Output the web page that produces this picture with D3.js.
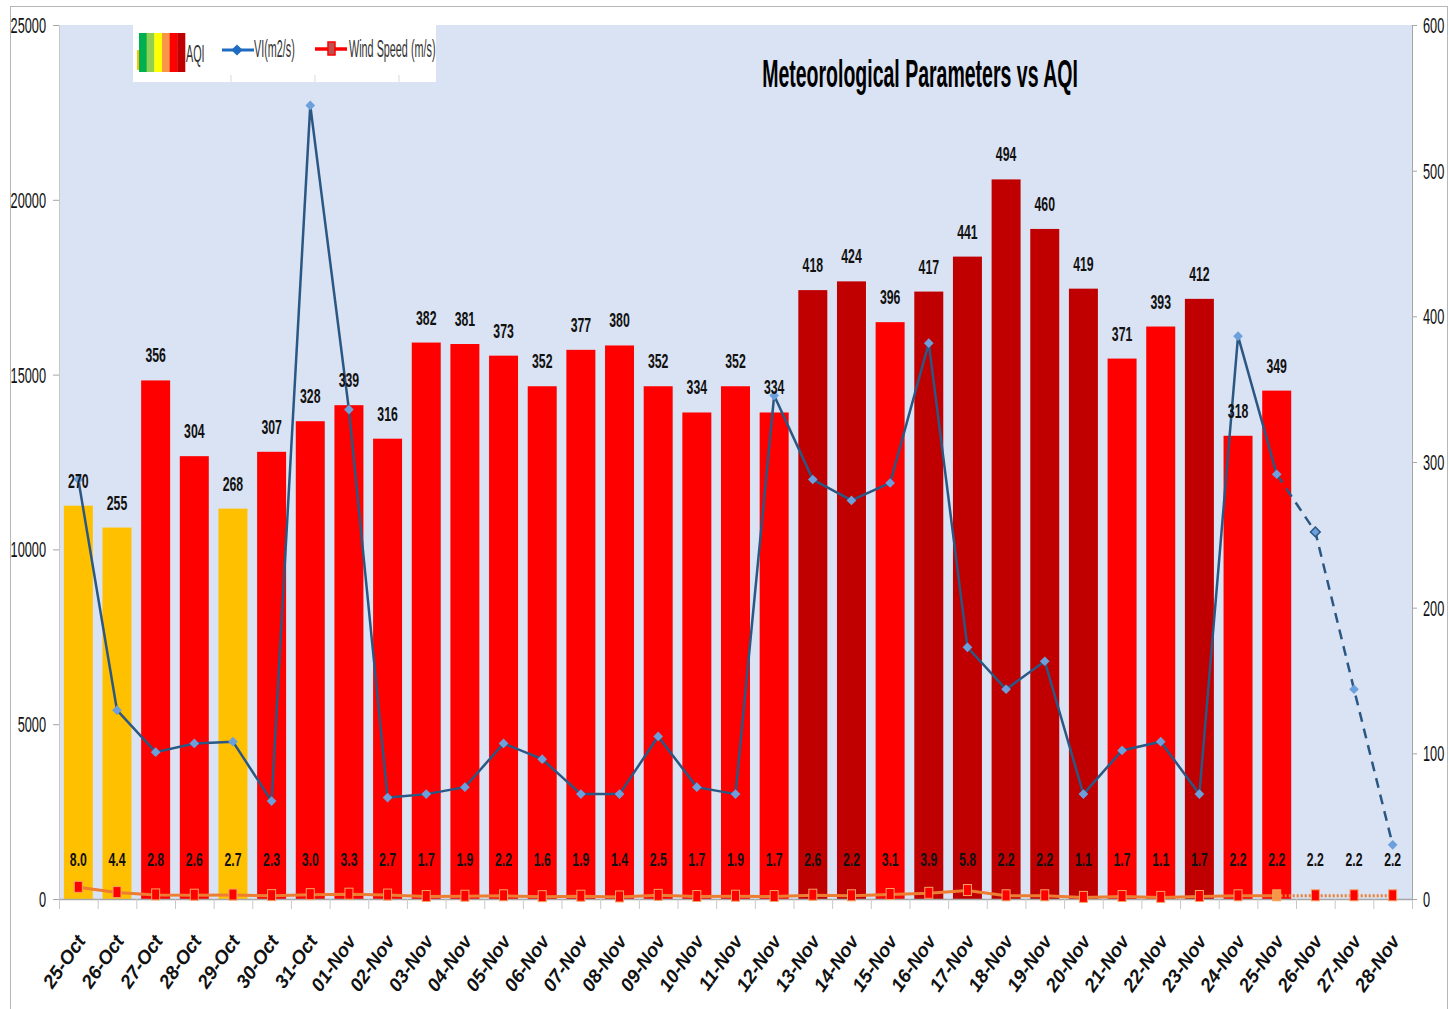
<!DOCTYPE html>
<html>
<head>
<meta charset="utf-8">
<script src="https://cdn.jsdelivr.net/npm/d3@7"></script>
<style>
  html, body { margin: 0; padding: 0; background: #fff; }
  svg text { font-family: "Liberation Sans", Arial, sans-serif; }
</style>
</head>
<body>
<div id="chart"></div>
<script>
// ---- Data -------------------------------------------------------------------
const dates = [
  "25-Oct", "26-Oct", "27-Oct", "28-Oct", "29-Oct", "30-Oct", "31-Oct",
  "01-Nov", "02-Nov", "03-Nov", "04-Nov", "05-Nov", "06-Nov", "07-Nov",
  "08-Nov", "09-Nov", "10-Nov", "11-Nov", "12-Nov", "13-Nov", "14-Nov",
  "15-Nov", "16-Nov", "17-Nov", "18-Nov", "19-Nov", "20-Nov", "21-Nov",
  "22-Nov", "23-Nov", "24-Nov", "25-Nov", "26-Nov", "27-Nov", "28-Nov"
];
// AQI (right axis), no value for the last three days
const aqi = [
  270, 255, 356, 304, 268, 307, 328, 339, 316, 382, 381, 373, 352, 377,
  380, 352, 334, 352, 334, 418, 424, 396, 417, 441, 494, 460, 419, 371,
  393, 412, 318, 349, null, null, null
];
// Ventilation index (left axis)
const vi = [
  12000, 5400, 4200, 4450, 4500, 2800, 22700, 14000, 2900, 3000, 3200, 4450,
  4000, 3000, 3000, 4650, 3200, 3000, 14400, 12000, 11400, 11900, 15900, 7200,
  6000, 6800, 3000, 4250, 4500, 3000, 16100, 12150, 10500, 6000, 1550
];
// Wind speed (m/s), right axis
const wind = [
  8.0, 4.4, 2.8, 2.6, 2.7, 2.3, 3.0, 3.3, 2.7, 1.7, 1.9, 2.2, 1.6, 1.9,
  1.4, 2.5, 1.7, 1.9, 1.7, 2.6, 2.2, 3.1, 3.9, 5.8, 2.2, 2.2, 1.1, 1.7,
  1.1, 1.7, 2.2, 2.2, 2.2, 2.2, 2.2
];
const forecastFrom = "25-Nov"; // lines turn dashed/dotted after this date
const leftTicks = [0, 5000, 10000, 15000, 20000, 25000];
const rightTicks = [0, 100, 200, 300, 400, 500, 600];
const legendSwatch = ["#00B050", "#92D050", "#FFFF00", "#F79646", "#FF0000", "#C00000"];

// ---- Helpers ----------------------------------------------------------------
const aqiColor = (v) => v <= 300 ? "#FFC000" : v <= 400 ? "#FF0000" : "#C00000";

// narrow text, like the squeezed Calibri of the original
function narrowText(sel, sx) {
  return sel.attr("transform", function () {
    const t = d3.select(this);
    return `translate(${t.attr("data-x")},${t.attr("data-y")}) scale(${sx},1)`;
  });
}

// ---- Layout -----------------------------------------------------------------
const width = 1449, height = 1009;
const plot = { left: 59, right: 1412, top: 25, bottom: 899 };

const svg = d3.select("#chart").append("svg")
  .attr("width", width).attr("height", height);

// chart border
svg.append("rect")
  .attr("x", 10.5).attr("y", 6.5)
  .attr("width", 1437).attr("height", height)
  .attr("fill", "#fff").attr("stroke", "#b7b7b7");

// plot area
svg.append("rect")
  .attr("x", plot.left).attr("y", plot.top)
  .attr("width", plot.right - plot.left).attr("height", plot.bottom - plot.top)
  .attr("fill", "#DAE3F3");

const x = d3.scaleBand()
  .domain(dates)
  .range([plot.left, plot.right])
  .paddingInner(0.25)
  .paddingOuter(0.125);
const cx = (d) => x(d) + x.bandwidth() / 2;

const yL = d3.scaleLinear().domain([0, 25000]).range([plot.bottom, plot.top]);
const yR = d3.scaleLinear().domain([0, 600]).range([plot.bottom, plot.top]);

// ---- Bars -------------------------------------------------------------------
const barData = dates.map((d, i) => ({ d, v: aqi[i] })).filter((e) => e.v != null);

svg.append("g").selectAll("rect")
  .data(barData)
  .join("rect")
  .attr("x", (e) => x(e.d))
  .attr("y", (e) => yR(e.v))
  .attr("width", x.bandwidth())
  .attr("height", (e) => yR(0) - yR(e.v))
  .attr("fill", (e) => aqiColor(e.v));

// ---- Axes -------------------------------------------------------------------
const axisColor = "#a6a6a6";

// x axis line + boundary ticks
svg.append("line")
  .attr("x1", plot.left).attr("x2", plot.right)
  .attr("y1", yR(0) + 0.5).attr("y2", yR(0) + 0.5)
  .attr("stroke", axisColor).attr("stroke-width", 1.5);
svg.append("g").selectAll("line")
  .data(d3.range(dates.length + 1))
  .join("line")
  .attr("x1", (i) => plot.left + i * x.step() + 0.5)
  .attr("x2", (i) => plot.left + i * x.step() + 0.5)
  .attr("y1", yR(0)).attr("y2", yR(0) + 10)
  .attr("stroke", "#c8c8c8");

// x labels
svg.append("g").selectAll("text")
  .data(dates)
  .join("text")
  .attr("transform", (d) => `translate(${cx(d) + 8},${plot.bottom + 42}) rotate(-55)`)
  .attr("text-anchor", "end")
  .attr("font-size", 19)
  .attr("font-weight", "bold")
  .attr("font-style", "italic")
  .attr("fill", "#111")
  .text((d) => d);

// left axis
const gL = svg.append("g")
  .attr("transform", `translate(${plot.left},0)`)
  .call(d3.axisLeft(yL).tickValues(leftTicks).tickSize(6).tickFormat(""));
gL.select(".domain").attr("stroke", "#c8c8c8");
gL.selectAll(".tick line").attr("stroke", axisColor);

narrowText(svg.append("g").selectAll("text")
  .data(leftTicks)
  .join("text")
  .attr("data-x", 46)
  .attr("data-y", (v) => yL(v))
  .attr("dy", "0.36em")
  .attr("text-anchor", "end")
  .attr("font-size", 22)
  .attr("fill", "#111")
  .text((v) => v), 0.58);

// right axis
const gR = svg.append("g")
  .attr("transform", `translate(${plot.right},0)`)
  .call(d3.axisRight(yR).tickValues(rightTicks).tickSize(5).tickFormat(""));
gR.select(".domain").attr("stroke", axisColor);
gR.selectAll(".tick line").attr("stroke", axisColor);

narrowText(svg.append("g").selectAll("text")
  .data(rightTicks)
  .join("text")
  .attr("data-x", 1423)
  .attr("data-y", (v) => yR(v))
  .attr("dy", "0.36em")
  .attr("text-anchor", "start")
  .attr("font-size", 22)
  .attr("fill", "#111")
  .text((v) => v), 0.58);

// ---- Wind speed line --------------------------------------------------------
const cut = dates.indexOf(forecastFrom);
const windPts = dates.map((d, i) => ({ d, v: wind[i], i }));
const windLine = d3.line().x((p) => cx(p.d)).y((p) => yR(p.v));

svg.append("path")
  .attr("d", windLine(windPts.slice(0, cut + 1)))
  .attr("fill", "none").attr("stroke", "#ED7D31").attr("stroke-width", 3);
svg.append("path")
  .attr("d", windLine(windPts.slice(cut)))
  .attr("fill", "none").attr("stroke", "#ED7D31").attr("stroke-width", 3)
  .attr("stroke-dasharray", "2,2");

svg.append("g").selectAll("rect")
  .data(windPts)
  .join("rect")
  .attr("x", (p) => cx(p.d) - 4)
  .attr("y", (p) => yR(p.v) - 6)
  .attr("width", 8).attr("height", 11)
  .attr("fill", (p) => p.i === cut ? "#F79646" : "#FF0000")
  .attr("stroke", "#F4A460").attr("stroke-width", 1);

// wind speed labels in a row above the baseline
narrowText(svg.append("g").selectAll("text")
  .data(windPts)
  .join("text")
  .attr("data-x", (p) => cx(p.d))
  .attr("data-y", yR(0) - 33)
  .attr("text-anchor", "middle")
  .attr("font-size", 18)
  .attr("font-weight", "bold")
  .attr("fill", "#111")
  .text((p) => p.v.toFixed(1)), 0.68);

// ---- VI line ----------------------------------------------------------------
const viPts = dates.map((d, i) => ({ d, v: vi[i], i }));
const viLine = d3.line().x((p) => cx(p.d)).y((p) => yL(p.v));

svg.append("path")
  .attr("d", viLine(viPts.slice(0, cut + 1)))
  .attr("fill", "none").attr("stroke", "#2A5783").attr("stroke-width", 2.5);
svg.append("path")
  .attr("d", viLine(viPts.slice(cut)))
  .attr("fill", "none").attr("stroke", "#2A5783").attr("stroke-width", 2.5)
  .attr("stroke-dasharray", "10,7");

svg.append("g").selectAll("path")
  .data(viPts)
  .join("path")
  .attr("transform", (p) => `translate(${cx(p.d)},${yL(p.v)})`)
  .attr("d", d3.symbol().type(d3.symbolDiamond2).size(60))
  .attr("fill", "#6CA0DC")
  .attr("stroke", (p) => p.i === cut + 1 ? "#2A5783" : "none")
  .attr("stroke-width", 1.5);

// ---- AQI labels -------------------------------------------------------------
narrowText(svg.append("g").selectAll("text")
  .data(barData)
  .join("text")
  .attr("data-x", (e) => cx(e.d))
  .attr("data-y", (e) => yR(e.v) - 18)
  .attr("text-anchor", "middle")
  .attr("font-size", 19.5)
  .attr("font-weight", "bold")
  .attr("fill", "#111")
  .text((e) => e.v), 0.63);

// ---- Title ------------------------------------------------------------------
narrowText(svg.append("text")
  .attr("data-x", 920).attr("data-y", 87)
  .attr("text-anchor", "middle")
  .attr("font-size", 39)
  .attr("font-weight", "bold")
  .attr("fill", "#000")
  .text("Meteorological Parameters vs AQI"), 0.5);

// ---- Legend -----------------------------------------------------------------
const lg = svg.append("g").attr("transform", "translate(133,25)");
lg.append("rect").attr("width", 303).attr("height", 57).attr("fill", "#fff");
lg.selectAll("line.sep")
  .data([98, 182, 266])
  .join("line")
  .attr("class", "sep")
  .attr("x1", (v) => v).attr("x2", (v) => v)
  .attr("y1", 50).attr("y2", 57)
  .attr("stroke", "#d9d9d9");

const swW = 46 / legendSwatch.length;
lg.append("rect").attr("x", 4).attr("y", 25).attr("width", 3).attr("height", 20).attr("fill", "#FFC000");
lg.selectAll("rect.sw")
  .data(legendSwatch)
  .join("rect")
  .attr("class", "sw")
  .attr("x", (c, i) => 6 + i * swW)
  .attr("y", 8)
  .attr("width", swW + 0.3)
  .attr("height", 39)
  .attr("fill", (c) => c);

const legendText = (tx, ty, str) => narrowText(lg.append("text")
  .attr("data-x", tx).attr("data-y", ty)
  .attr("font-size", 23).attr("fill", "#333").text(str), 0.47);

legendText(53, 37, "AQI");

lg.append("line").attr("x1", 89).attr("x2", 121).attr("y1", 25).attr("y2", 25)
  .attr("stroke", "#1F6BC0").attr("stroke-width", 3);
lg.append("path").attr("transform", "translate(104,25)")
  .attr("d", d3.symbol().type(d3.symbolDiamond2).size(80))
  .attr("fill", "#1F6BC0");
legendText(121, 32, "VI(m2/s)");

lg.append("line").attr("x1", 182).attr("x2", 214).attr("y1", 24).attr("y2", 24)
  .attr("stroke", "#FF0000").attr("stroke-width", 3.5);
lg.append("rect").attr("x", 195).attr("y", 17).attr("width", 7).attr("height", 13)
  .attr("fill", "#C0504D").attr("stroke", "#FF0000").attr("stroke-width", 1.5);
legendText(216, 32, "Wind Speed (m/s)");
</script>
</body>
</html>
